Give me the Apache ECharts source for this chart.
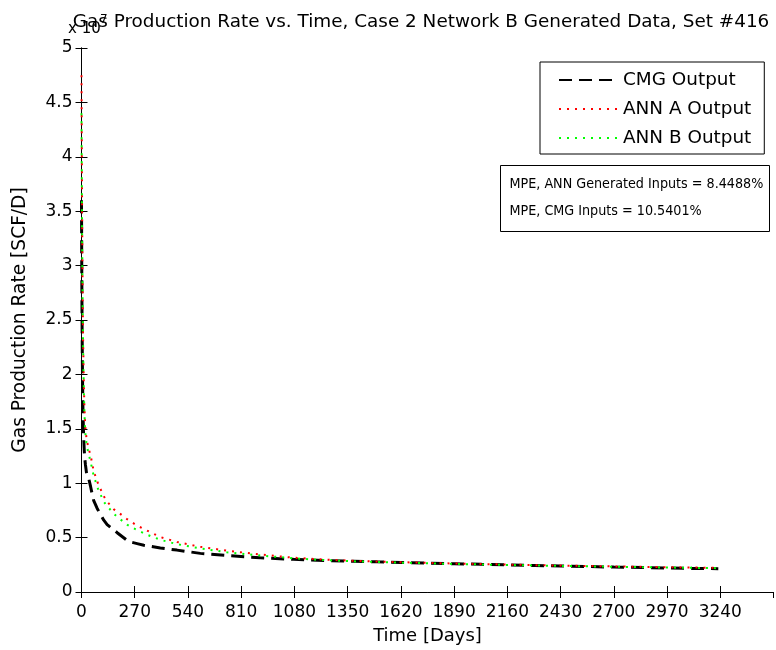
<!DOCTYPE html>
<html>
<head>
<meta charset="utf-8">
<script src="https://cdn.jsdelivr.net/npm/echarts@6/dist/echarts.min.js"></script>
<style>
  html, body { margin: 0; padding: 0; background: #fff; }
  #chart { width: 776px; height: 650px; }
</style>
</head>
<body>
<div id="chart"></div>
<script>
// Time axis (days) and gas rates (x 10^7 SCF/D)
const days = [0, 1, 2, 3, 4, 5, 6, 7, 8, 10, 12, 14, 17, 20, 25, 30, 37, 46, 54, 62, 79, 88, 113, 130, 164, 181, 231, 248, 282, 316, 349, 400, 484, 603, 738, 906, 1075, 1230, 1380, 1500, 1620, 1750, 1890, 2030, 2160, 2300, 2430, 2570, 2700, 2840, 2970, 3100, 3230];
const cmgOutput = [3.6, 3.1, 2.75, 2.45, 2.2, 2.0, 1.85, 1.72, 1.62, 1.48, 1.38, 1.3, 1.22, 1.17, 1.1, 1.07, 1.04, 0.97, 0.9, 0.84, 0.77, 0.74, 0.66, 0.62, 0.57, 0.545, 0.475, 0.46, 0.445, 0.43, 0.42, 0.405, 0.385, 0.355, 0.335, 0.315, 0.3, 0.29, 0.283, 0.277, 0.272, 0.266, 0.26, 0.254, 0.249, 0.244, 0.239, 0.234, 0.229, 0.225, 0.221, 0.217, 0.214];
const annAOutput = [4.75, 4.3, 3.9, 3.5, 3.2, 2.95, 2.7, 2.5, 2.35, 2.1, 1.9, 1.75, 1.6, 1.5, 1.42, 1.37, 1.31, 1.26, 1.18, 1.11, 1.02, 0.98, 0.88, 0.83, 0.76, 0.74, 0.67, 0.65, 0.61, 0.58, 0.55, 0.505, 0.46, 0.415, 0.38, 0.345, 0.315, 0.298, 0.287, 0.28, 0.274, 0.268, 0.262, 0.257, 0.252, 0.247, 0.243, 0.239, 0.235, 0.231, 0.228, 0.225, 0.222];
const annBOutput = [4.4, 4.0, 3.65, 3.3, 3.05, 2.8, 2.6, 2.42, 2.28, 2.03, 1.84, 1.7, 1.55, 1.45, 1.37, 1.32, 1.26, 1.2, 1.13, 1.07, 0.97, 0.93, 0.83, 0.79, 0.72, 0.69, 0.62, 0.6, 0.57, 0.54, 0.515, 0.48, 0.44, 0.4, 0.365, 0.335, 0.31, 0.293, 0.282, 0.276, 0.27, 0.264, 0.258, 0.253, 0.248, 0.244, 0.24, 0.236, 0.232, 0.228, 0.225, 0.222, 0.219];
const xTickStep = 270;
const xMax = 3510;
const yTickStep = 0.5;
const yMax = 5;

const seriesNames = ['CMG Output', 'ANN A Output', 'ANN B Output'];
const mpeLines = ['MPE, ANN Generated Inputs = 8.4488%', 'MPE, CMG Inputs = 10.5401%'];
const titleText = 'Gas Production Rate vs. Time, Case 2 Network B Generated Data, Set #416';

const FONT = 'DejaVu Sans';
const NOTE_FONT = '14.2px "DejaVu Sans Condensed", "DejaVu Sans"';
const pair = (vals) => days.map((d, i) => [d, vals[i]]);
const plain = (v) => String(v);

const chart = echarts.init(document.getElementById('chart'), null, { renderer: 'canvas' });

const axisCommon = {
  axisLine: { show: true, lineStyle: { color: '#000', width: 1 } },
  axisTick: { show: true, inside: true, length: 6, lineStyle: { color: '#000' } },
  splitLine: { show: false }
};

chart.setOption({
  animation: false,
  backgroundColor: '#fff',
  textStyle: { fontFamily: FONT },
  title: {
    text: titleText,
    left: 416, top: 8, textAlign: 'center', z: 1,
    textStyle: { fontFamily: FONT, fontSize: 18.4, fontWeight: 'normal', color: '#000' }
  },
  grid: { left: 81.5, right: 2.5, top: 48, bottom: 56.5, containLabel: false },
  xAxis: [
    Object.assign({
      type: 'value', min: 0, max: xMax, interval: xTickStep, position: 'bottom',
      name: 'Time [Days]', nameLocation: 'middle', nameGap: 35,
      nameTextStyle: { fontFamily: FONT, fontSize: 18, color: '#000' },
      axisLabel: { show: true, margin: 12, showMaxLabel: false, formatter: plain, color: '#000', fontFamily: FONT, fontSize: 17 }
    }, axisCommon),
    Object.assign({
      type: 'value', min: 0, max: xMax, interval: xTickStep, position: 'top',
      axisLabel: { show: false }
    }, axisCommon)
  ],
  yAxis: [
    Object.assign({
      type: 'value', min: 0, max: yMax, interval: yTickStep, position: 'left',
      name: 'Gas Production Rate [SCF/D]', nameLocation: 'middle', nameGap: 52, nameRotate: 90,
      nameTextStyle: { fontFamily: FONT, fontSize: 18.6, color: '#000' },
      axisLabel: { show: true, margin: 9, formatter: plain, color: '#000', fontFamily: FONT, fontSize: 17 }
    }, axisCommon),
    Object.assign({
      type: 'value', min: 0, max: yMax, interval: yTickStep, position: 'right',
      axisLabel: { show: false }
    }, axisCommon)
  ],
  legend: {
    orient: 'vertical', left: 540, top: 62,
    padding: [9, 13, 7, 18], itemGap: 11,
    itemWidth: 59, itemHeight: 14,
    backgroundColor: '#fff', borderColor: '#000', borderWidth: 1, borderRadius: 0,
    itemStyle: { opacity: 0 },
    textStyle: { fontFamily: FONT, fontSize: 18.4, color: '#000' },
    data: seriesNames
  },
  series: [
    {
      name: seriesNames[0], type: 'line', data: pair(cmgOutput), showSymbol: false, symbol: 'none',
      lineStyle: { color: '#000', width: 3, type: [13, 7] }, itemStyle: { color: '#000' }
    },
    {
      name: seriesNames[1], type: 'line', data: pair(annAOutput), showSymbol: false, symbol: 'none',
      lineStyle: { color: '#ff0000', width: 2, type: [2, 6] }, itemStyle: { color: '#ff0000' }
    },
    {
      name: seriesNames[2], type: 'line', data: pair(annBOutput), showSymbol: false, symbol: 'none',
      lineStyle: { color: '#00ff00', width: 2, type: [2, 6] }, itemStyle: { color: '#00ff00' }
    }
  ],
  graphic: [
    // axis exponent, drawn over the title like the plotting tool does
    { type: 'text', left: 68, top: 22, z: 100,
      style: { text: 'x 10', font: '15px "DejaVu Sans"', fill: '#000' } },
    { type: 'text', left: 100, top: 14, z: 100,
      style: { text: '7', font: '12px "DejaVu Sans"', fill: '#000' } },
    {
      type: 'group', left: 500, top: 165, z: 10,
      children: [
        { type: 'rect', shape: { x: 0, y: 0, width: 269, height: 66 },
          style: { fill: '#fff', stroke: '#000', lineWidth: 1 } },
        { type: 'text', x: 9, y: 19, style: { text: mpeLines[0], font: NOTE_FONT, fill: '#000', verticalAlign: 'middle' } },
        { type: 'text', x: 9, y: 46, style: { text: mpeLines[1], font: NOTE_FONT, fill: '#000', verticalAlign: 'middle' } }
      ]
    }
  ]
});
</script>
</body>
</html>
